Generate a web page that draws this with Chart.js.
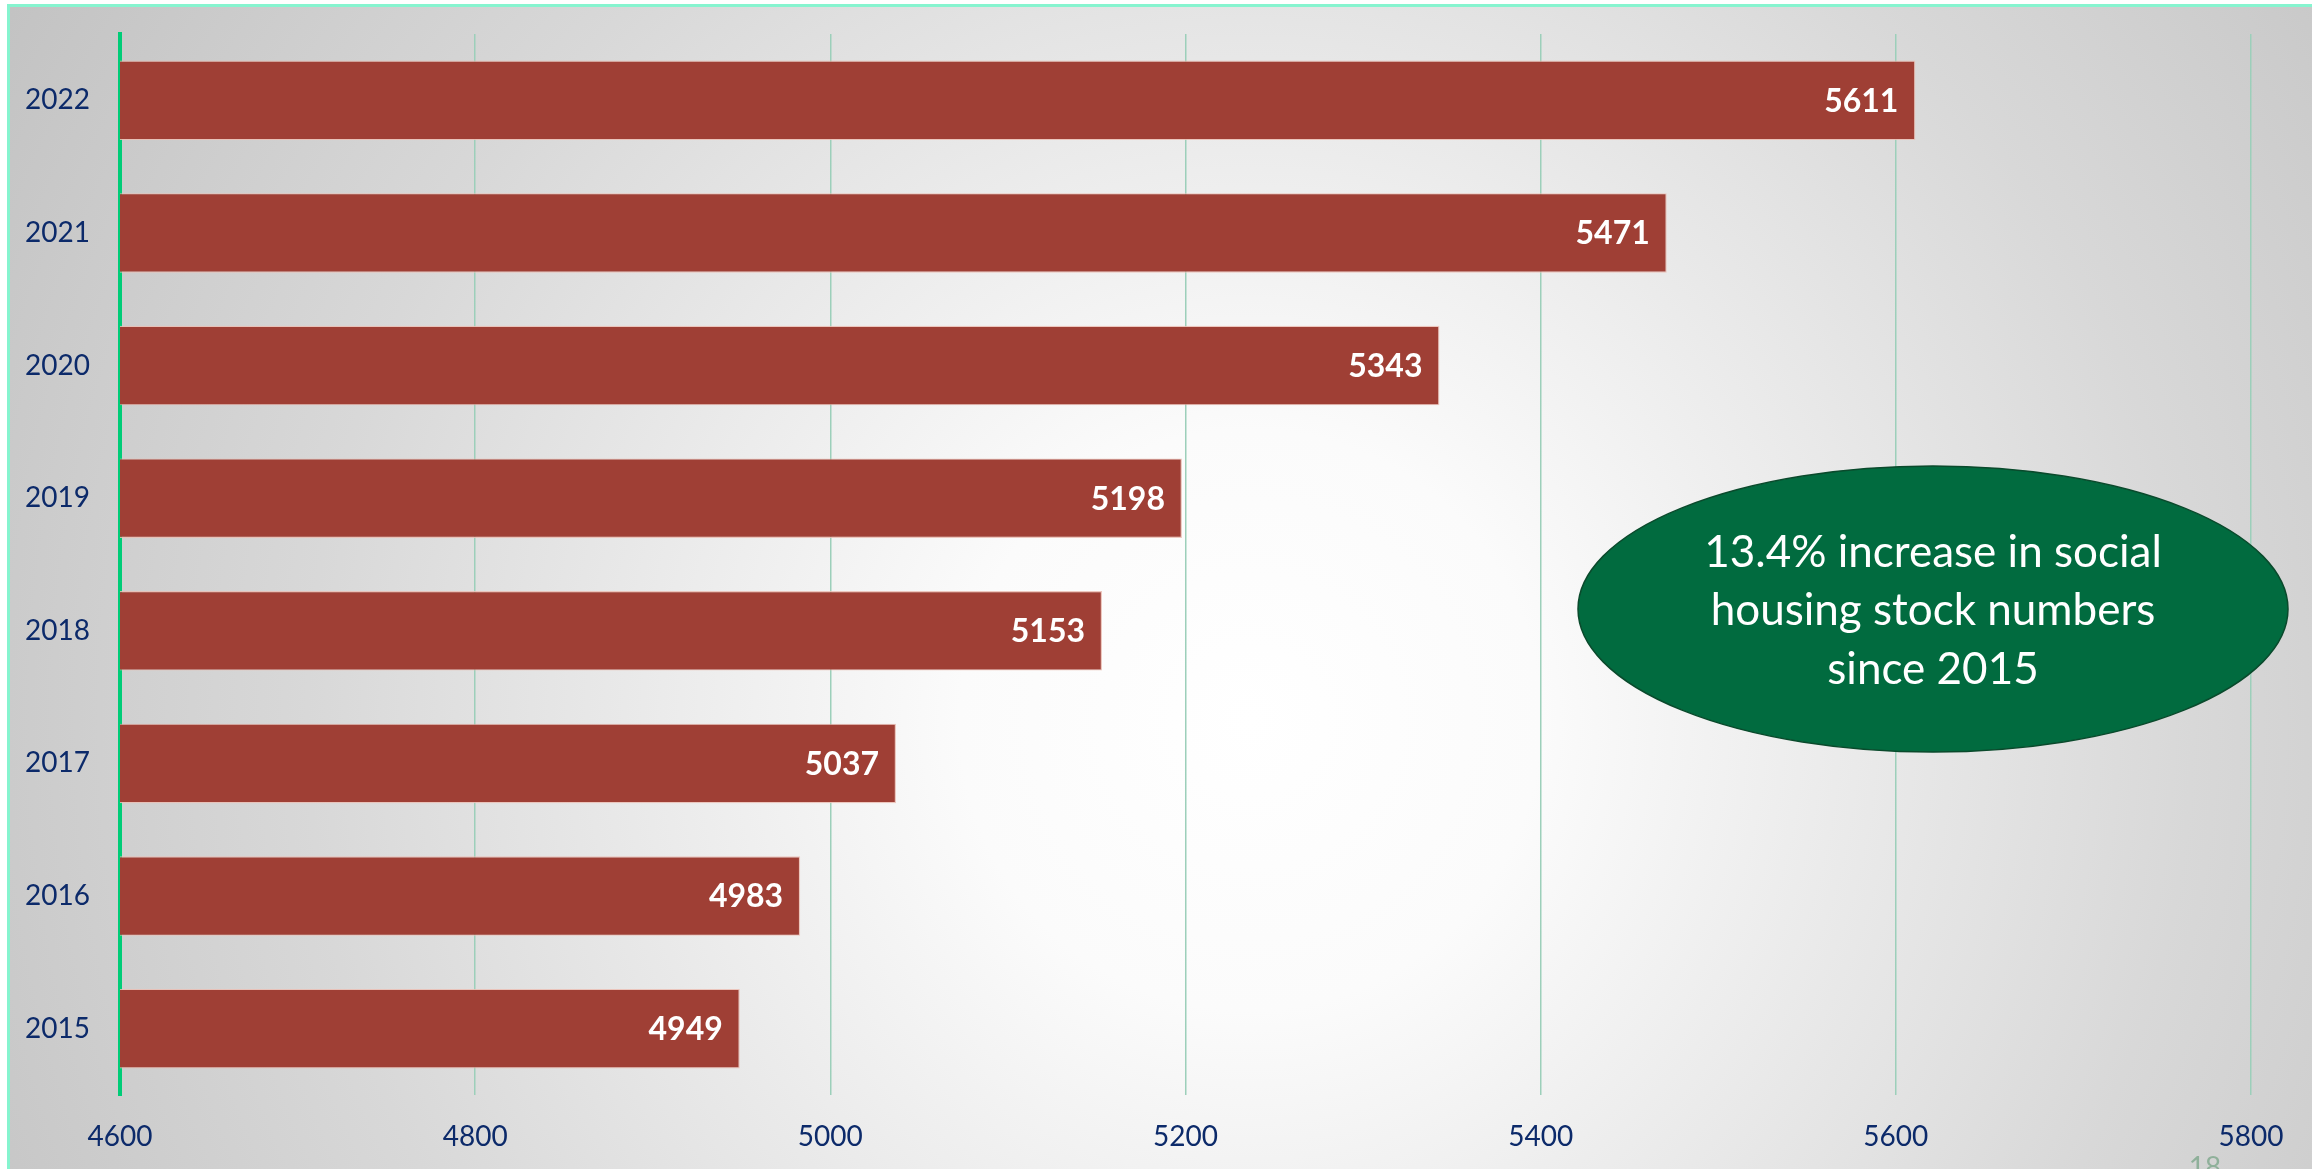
<!DOCTYPE html>
<html>
<head>
<meta charset="utf-8">
<script src="https://cdn.jsdelivr.net/npm/chart.js@4.4.0/dist/chart.umd.min.js"></script>
<style>
  html, body { margin: 0; padding: 0; background: #ffffff; }
  #wrap { width: 2312px; height: 1169px; }
</style>
</head>
<body>
<div id="wrap"><canvas id="stock" width="2312" height="1169"></canvas></div>
<script>
// Social housing stock, one bar per year (newest on top)
const anos = ['2022', '2021', '2020', '2019', '2018', '2017', '2016', '2015'];
const stock = [5611, 5471, 5343, 5198, 5153, 5037, 4983, 4949];
const xTicks = [4600, 4800, 5000, 5200, 5400, 5600, 5800];
const callout = ['13.4% increase in social', 'housing stock numbers', 'since 2015'];
const slideNo = '18';

const navy = '#0c2a6a';

// slide background: soft radial grey with a thin mint frame
const fundo = {
    id: 'fundo',
    beforeDraw(chart) {
        const ctx = chart.ctx;
        const w = chart.width, h = chart.height;
        ctx.save();
        ctx.fillStyle = '#ffffff';
        ctx.fillRect(0, 0, w, h);
        const g = ctx.createRadialGradient(1250, 720, 0, 1250, 720, 1450);
        g.addColorStop(0, '#ffffff');
        g.addColorStop(0.2, '#fbfbfb');
        g.addColorStop(0.65, '#d8d8d8');
        g.addColorStop(1, '#c2c2c2');
        ctx.fillStyle = g;
        ctx.fillRect(9, 6, w, h);
        ctx.strokeStyle = '#86f4cf';
        ctx.lineWidth = 3;
        ctx.strokeRect(8.5, 5.5, w + 20, h + 20);
        ctx.restore();
    }
};

// white value labels inside the end of each bar
const rotulos = {
    id: 'rotulos',
    afterDatasetsDraw(chart) {
        const ctx = chart.ctx;
        const meta = chart.getDatasetMeta(0);
        ctx.save();
        ctx.fillStyle = '#ffffff';
        ctx.font = 'bold 32px Lato';
        ctx.textAlign = 'right';
        ctx.textBaseline = 'middle';
        meta.data.forEach((bar, i) => {
            ctx.fillText(String(chart.data.datasets[0].data[i]), bar.x - 17, bar.y + 1);
        });
        ctx.restore();
    }
};

// green oval with the headline figure, plus slide number
const destaque = {
    id: 'destaque',
    afterDraw(chart) {
        const ctx = chart.ctx;
        ctx.save();
        ctx.beginPath();
        ctx.ellipse(1933, 609, 355, 143, 0, 0, Math.PI * 2);
        ctx.fillStyle = '#016b3f';
        ctx.fill();
        ctx.lineWidth = 1.5;
        ctx.strokeStyle = '#0a4a2c';
        ctx.stroke();

        ctx.fillStyle = '#ffffff';
        ctx.font = '44px Lato';
        ctx.textAlign = 'center';
        ctx.textBaseline = 'middle';
        const linhas = [553, 611, 670];
        callout.forEach((t, i) => ctx.fillText(t, 1933, linhas[i]));

        ctx.fillStyle = '#8fb09a';
        ctx.font = '28px Lato';
        ctx.textBaseline = 'alphabetic';
        ctx.fillText(slideNo, 2205, 1177);
        ctx.restore();
    }
};

new Chart(document.getElementById('stock'), {
    type: 'bar',
    data: {
        labels: anos,
        datasets: [{
            data: stock,
            backgroundColor: '#9f3f35',
            borderColor: 'rgba(235,190,180,0.85)',
            borderWidth: 1.2,
            borderSkipped: 'start',
            barPercentage: 0.6,
            categoryPercentage: 1
        }]
    },
    options: {
        indexAxis: 'y',
        responsive: false,
        animation: false,
        layout: { padding: { top: 34, right: 61, left: 0, bottom: 0 } },
        plugins: {
            legend: { display: false },
            tooltip: { enabled: false }
        },
        scales: {
            x: {
                min: xTicks[0],
                max: xTicks[xTicks.length - 1],
                afterBuildTicks(scale) {
                    scale.ticks = xTicks.map(v => ({ value: v }));
                },
                afterFit(scale) { scale.height = 74; },
                grid: { color: '#9ccfba', lineWidth: 1.5, drawTicks: false },
                border: { display: false },
                ticks: {
                    color: navy,
                    padding: 25,
                    maxRotation: 0,
                    callback: v => String(v),
                    font: { family: 'Lato', size: 28 }
                }
            },
            y: {
                afterFit(scale) {
                    scale.width = 120;
                    scale.paddingTop = 0;
                    scale.paddingBottom = 0;
                },
                grid: { display: false, drawTicks: false },
                border: { display: true, color: '#00cc77', width: 4 },
                ticks: {
                    color: navy,
                    padding: 30,
                    font: { family: 'Lato', size: 28 }
                }
            }
        }
    },
    plugins: [fundo, rotulos, destaque]
});
</script>
</body>
</html>
